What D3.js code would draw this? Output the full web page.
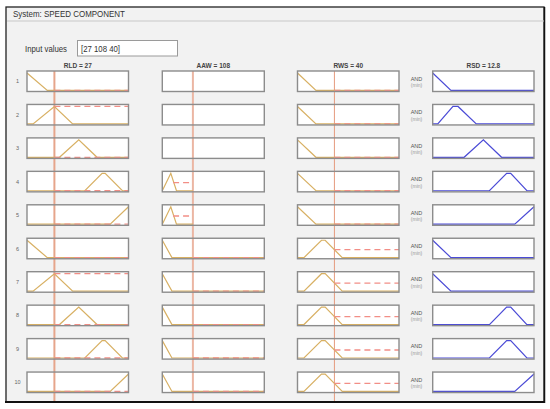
<!DOCTYPE html>
<html><head><meta charset="utf-8">
<script src="https://cdn.jsdelivr.net/npm/d3@7"></script>
<style>body{margin:0;background:#fff;}svg{display:block;font-family:"Liberation Sans",Arial,sans-serif;}</style>
</head><body>
<svg id="c" width="550" height="409"></svg>
<script>
// ---- data ----
const systemName = "SPEED COMPONENT";
const inputNames = ["RLD", "AAW", "RWS"];
const inputValues = [27, 108, 40];
const inputDomains = [[0, 100], [0, 360], [0, 110]];
const outputName = "RSD";
const outputValue = 12.8;
const outputDomain = [0, 100];
const ruleIds = [1, 2, 3, 4, 5, 6, 7, 8, 9, 10];

// membership function shapes as [x, mu] points
const rldSets = [
  [[0, 1], [20, 0], [100, 0]],
  [[0, 0], [6, 0], [27, 1], [45, 0], [100, 0]],
  [[0, 0], [32, 0], [51, 1], [69, 0], [100, 0]],
  [[0, 0], [57, 0], [74, 1], [77, 1], [94, 0], [100, 0]],
  [[0, 0], [82, 0], [100, 1]]
];
const aawSets = [
  null,
  [[0, 0], [30, 1], [50, 0], [108, 0]],
  [[0, 1], [34, 0], [360, 0]]
];
const rwsSets = [
  [[0, 1], [20, 0], [110, 0]],
  [[0, 0], [7, 0], [26, 1], [30, 1], [48.5, 0], [110, 0]]
];
const rsdSets = [
  [[0, 1], [18, 0], [100, 0]],
  [[0, 0], [5, 0], [20, 1], [25, 1], [43, 0], [100, 0]],
  [[0, 0], [31, 0], [50, 1], [68, 0], [100, 0]],
  [[0, 0], [56, 0], [73, 1], [77, 1], [93, 0], [100, 0]],
  [[0, 0], [81, 0], [100, 1]]
];

// rule antecedents / consequents (set index; 0 = not used for AAW)
const rldRule = [0, 1, 2, 3, 4, 0, 1, 2, 3, 4];
const aawRule = [0, 0, 0, 1, 1, 2, 2, 2, 2, 2];
const rwsRule = [0, 0, 0, 0, 0, 1, 1, 1, 1, 1];
const rsdRule = [0, 1, 2, 3, 4, 0, 0, 3, 3, 4];

// firing degrees
const rldFire = [0, 1, 0, 0, 0, 0, 1, 0, 0, 0];
const aawFire = [null, null, null, 0.47, 0.47, 0, 0, 0, 0, 0];
const rwsFire = [0, 0, 0, 0, 0, 0.46, 0.46, 0.46, 0.46, 0.46];
// dashed extent per AAW set
const aawDash = [null, [38, 108], [108, 360]];

// ---- layout ----
const svg = d3.select("#c");
const colX = [[27, 128.5], [162.3, 264.3], [297.5, 399], [432.7, 534]];
const rowTop0 = 71, rowStep = 33.45, boxH = 20.5;
const tan = "#d8b063", red = "#f28e86", blue = "#4b4bd6";

// frame
svg.append("rect").attr("x", 6).attr("y", 7).attr("width", 538).attr("height", 395)
  .attr("fill", "#f2f2f2").attr("stroke", "#222").attr("stroke-width", 1.3);
svg.append("line").attr("x1", 5).attr("x2", 545).attr("y1", 402).attr("y2", 402).attr("stroke", "#111").attr("stroke-width", 2);
svg.append("line").attr("x1", 544.5).attr("x2", 544.5).attr("y1", 7).attr("y2", 403).attr("stroke", "#111").attr("stroke-width", 1.5);
svg.append("line").attr("x1", 7).attr("x2", 544).attr("y1", 21).attr("y2", 21).attr("stroke", "#c8c8c8");
svg.append("text").attr("x", 13).attr("y", 17).attr("font-size", 9.5).attr("fill", "#333")
  .attr("textLength", 112).attr("lengthAdjust", "spacingAndGlyphs")
  .text("System: " + systemName);

svg.append("text").attr("x", 25).attr("y", 51.5).attr("font-size", 9.5).attr("fill", "#333")
  .attr("textLength", 42).attr("lengthAdjust", "spacingAndGlyphs").text("Input values");
svg.append("rect").attr("x", 77.5).attr("y", 40.5).attr("width", 100).attr("height", 15.5)
  .attr("fill", "#fff").attr("stroke", "#9a9a9a");
svg.append("text").attr("x", 81).attr("y", 51.5).attr("font-size", 9.5).attr("fill", "#333")
  .attr("textLength", 39).attr("lengthAdjust", "spacingAndGlyphs")
  .text("[" + inputValues.join(" ") + "]");

// headers
const headers = inputNames.map((n, i) => n + " = " + inputValues[i]).concat([outputName + " = " + outputValue]);
headers.forEach((h, i) => {
  svg.append("text").attr("x", (colX[i][0] + colX[i][1]) / 2).attr("y", 67.5)
    .attr("text-anchor", "middle").attr("font-size", 6.5).attr("font-weight", "bold").attr("fill", "#444").text(h);
});

const yRow = d3.scaleBand().domain(ruleIds).range([rowTop0, rowTop0 + rowStep * ruleIds.length]).paddingInner(0);
const xScales = inputDomains.map((d, i) => d3.scaleLinear().domain(d).range(colX[i]));
xScales.push(d3.scaleLinear().domain(outputDomain).range(colX[3]));

// box fills and row labels
ruleIds.forEach((r, ri) => {
  const top = yRow(r);
  colX.forEach(c => {
    svg.append("rect").attr("x", c[0]).attr("y", top).attr("width", c[1] - c[0]).attr("height", boxH).attr("fill", "#fff");
  });
  svg.append("text").attr("x", 17.5).attr("y", top + boxH / 2 + 2).attr("text-anchor", "middle")
    .attr("font-size", 5.5).attr("fill", "#666").text(r);
  svg.append("text").attr("x", 416.5).attr("y", top + boxH / 2 - 0.5).attr("text-anchor", "middle")
    .attr("font-size", 5.5).attr("fill", "#555").text("AND");
  svg.append("text").attr("x", 416.5).attr("y", top + boxH / 2 + 6).attr("text-anchor", "middle")
    .attr("font-size", 5).attr("fill", "#999").text("(min)");
});

// input lines
const lineStyles = [{c: "#e6a58b", w: 2}, {c: "#ebb6a3", w: 2}, {c: "#e59a7e", w: 1}];
inputValues.forEach((v, i) => {
  svg.append("line").attr("x1", xScales[i](v)).attr("x2", xScales[i](v))
    .attr("y1", rowTop0).attr("y2", 401).attr("stroke", lineStyles[i].c).attr("stroke-width", lineStyles[i].w);
});

const setsByCol = [rldSets, aawSets, rwsSets, rsdSets];
const ruleByCol = [rldRule, aawRule, rwsRule, rsdRule];
const fireByCol = [rldFire, aawFire, rwsFire];

ruleIds.forEach((r, ri) => {
  const top = yRow(r);
  const y = d3.scaleLinear().domain([0, 1]).range([top + boxH - 1.1, top + 2]);
  for (let ci = 0; ci < 4; ci++) {
    const x = xScales[ci];
    const set = setsByCol[ci][ruleByCol[ci][ri]];
    if (set) {
      const line = d3.line().x(d => x(d[0])).y(d => y(d[1]));
      svg.append("path").attr("d", line(set)).attr("fill", "none")
        .attr("stroke", ci === 3 ? blue : tan).attr("stroke-width", 1.2);
    }
    if (ci < 3 && fireByCol[ci][ri] !== null) {
      let span = [inputValues[ci], inputDomains[ci][1]];
      if (ci === 1) span = aawDash[aawRule[ri]];
      svg.append("line").attr("x1", x(span[0])).attr("x2", x(span[1]))
        .attr("y1", y(fireByCol[ci][ri])).attr("y2", y(fireByCol[ci][ri]))
        .attr("stroke", red).attr("stroke-width", 1.3).attr("stroke-dasharray", "6,4");
    }
  }
  colX.forEach(c => {
    svg.append("rect").attr("x", c[0]).attr("y", top).attr("width", c[1] - c[0]).attr("height", boxH)
      .attr("fill", "none").attr("stroke", "#8c8c8c").attr("stroke-width", 1.4);
  });
});
</script>
</body></html>
